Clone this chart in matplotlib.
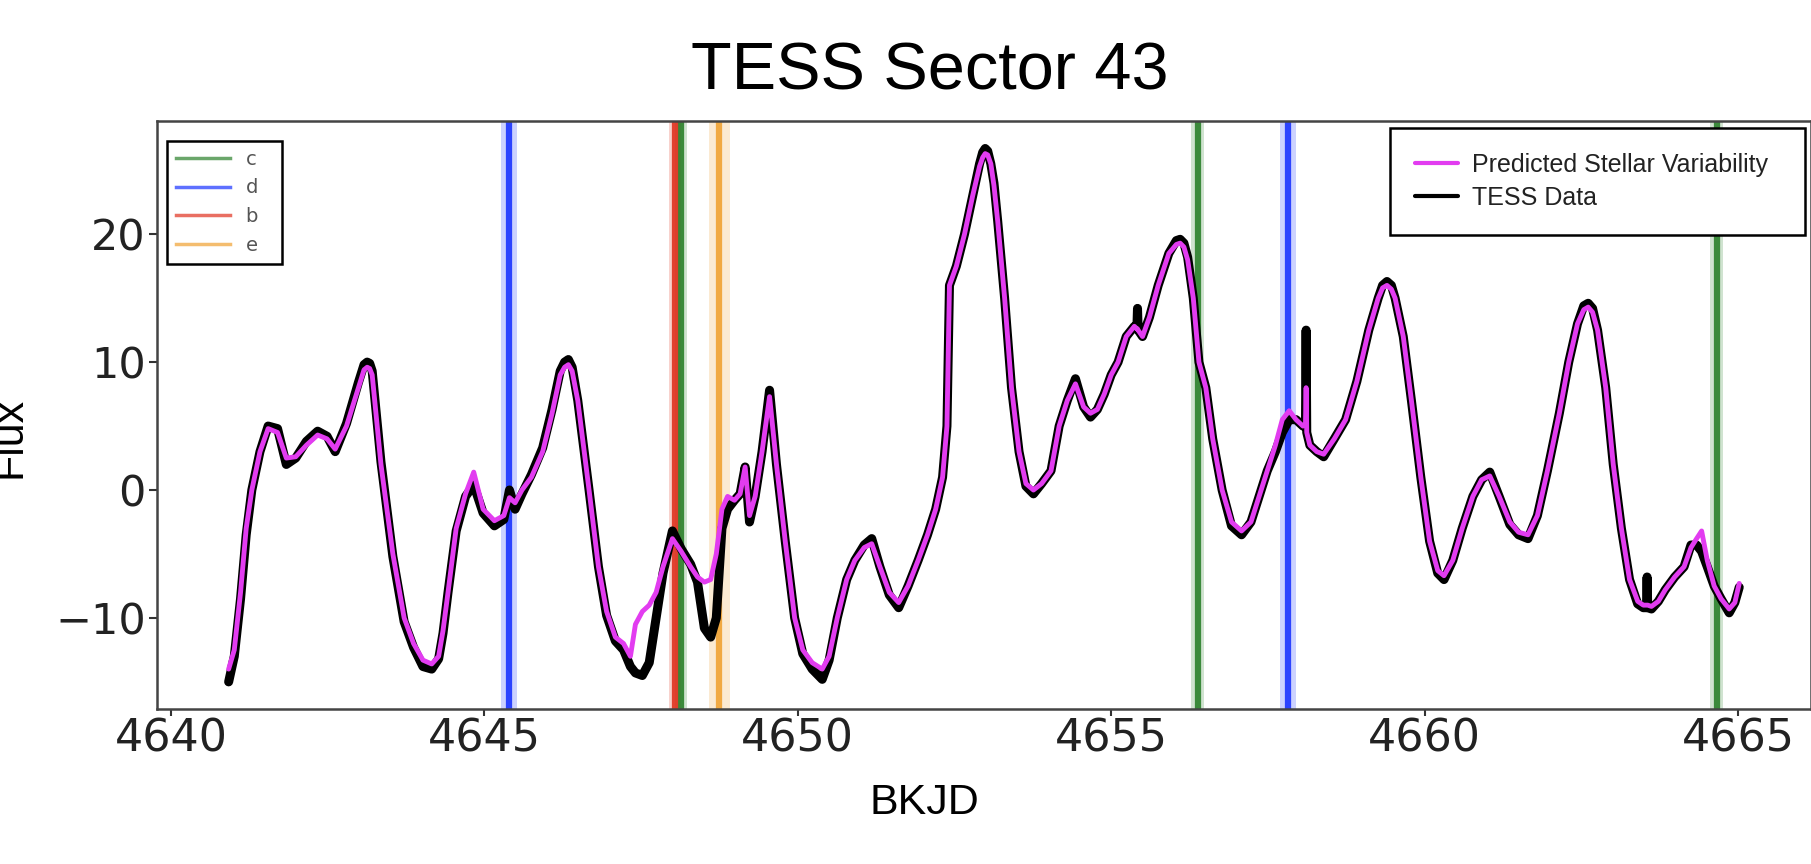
import numpy as np
import matplotlib.pyplot as plt

# light curve (BKJD, flux)
t = [4640.92, 4641.01, 4641.11, 4641.20, 4641.29, 4641.42, 4641.55, 4641.70, 4641.84, 4641.99,
     4642.16, 4642.34, 4642.49, 4642.62, 4642.80, 4642.99, 4643.08, 4643.13, 4643.17, 4643.21,
     4643.35, 4643.54, 4643.72, 4643.87,
     4644.02, 4644.16, 4644.27, 4644.34, 4644.42, 4644.55, 4644.70, 4644.83, 4644.98,
     4645.16, 4645.31, 4645.40, 4645.49, 4645.60, 4645.75, 4645.93,
     4646.08, 4646.21, 4646.28, 4646.34, 4646.40, 4646.49, 4646.67, 4646.82, 4646.95,
     4647.09, 4647.22, 4647.33, 4647.41, 4647.52, 4647.63, 4647.74, 4647.85,
     4648.00, 4648.14, 4648.29, 4648.40, 4648.51, 4648.61, 4648.70, 4648.79, 4648.88, 4648.99,
     4649.08, 4649.16, 4649.23, 4649.32, 4649.43, 4649.55, 4649.66, 4649.80, 4649.95,
     4650.08, 4650.23, 4650.39, 4650.50, 4650.63, 4650.78, 4650.91, 4651.06, 4651.18, 4651.31,
     4651.46, 4651.61, 4651.76, 4651.92, 4652.07, 4652.20, 4652.31, 4652.38, 4652.42,
     4652.53, 4652.66, 4652.79, 4652.90, 4652.95, 4652.99,
     4653.03, 4653.08, 4653.13, 4653.19, 4653.30, 4653.41, 4653.53, 4653.64, 4653.76, 4653.89,
     4654.04, 4654.17, 4654.30, 4654.43, 4654.56, 4654.67, 4654.78, 4654.89,
     4655.00, 4655.11, 4655.24, 4655.37, 4655.41, 4655.42, 4655.43, 4655.50, 4655.61, 4655.75,
     4655.92, 4656.04, 4656.10, 4656.16, 4656.22, 4656.31, 4656.40, 4656.51, 4656.62, 4656.77,
     4656.92, 4657.08, 4657.23, 4657.36, 4657.49, 4657.62, 4657.73, 4657.84, 4657.95,
     4658.06, 4658.10, 4658.11, 4658.12, 4658.17, 4658.28, 4658.39, 4658.56, 4658.74, 4658.92,
     4659.11, 4659.26, 4659.33, 4659.40, 4659.47, 4659.53, 4659.66, 4659.79, 4659.94,
     4660.08, 4660.21, 4660.31, 4660.45, 4660.60, 4660.77, 4660.91,
     4661.04, 4661.19, 4661.36, 4661.50, 4661.65, 4661.80, 4661.96,
     4662.15, 4662.30, 4662.44, 4662.54, 4662.61, 4662.68, 4662.76, 4662.89,
     4663.01, 4663.14, 4663.27, 4663.40, 4663.49, 4663.54, 4663.55, 4663.56, 4663.62, 4663.73,
     4663.84, 4663.99,
     4664.14, 4664.25, 4664.34, 4664.42, 4664.51, 4664.62, 4664.73, 4664.86, 4664.95, 4665.02]

pred = [-14.0, -12.5, -8.0, -3.0, 0.0, 3.0, 4.8, 4.5, 2.5, 2.6,
        3.5, 4.3, 4.0, 3.2, 5.0, 8.0, 9.4, 9.6, 9.5, 9.0,
        2.0, -5.0, -10.0, -12.0,
        -13.3, -13.6, -13.0, -11.0, -8.0, -3.0, -0.3, 1.4, -1.5,
        -2.4, -2.0, -0.6, -1.0, 0.0, 1.0, 3.0,
        6.0, 9.0, 9.6, 9.8, 9.3, 7.0, 0.0, -6.0, -9.5,
        -11.5, -12.0, -13.0, -10.5, -9.5, -9.0, -8.0, -6.0,
        -3.8, -4.8, -6.0, -6.8, -7.2, -7.0, -5.0, -1.5, -0.5, -0.8,
        -0.3, 1.8, -2.0, -0.5, 3.0, 7.3, 2.0, -4.0, -10.0,
        -12.5, -13.5, -14.0, -13.0, -10.0, -7.0, -5.5, -4.5, -4.2, -6.0,
        -8.0, -8.8, -7.5, -5.5, -3.5, -1.5, 1.0, 5.0, 16.0,
        17.5, 20.0, 23.0, 25.3, 26.0, 26.3,
        26.2, 25.5, 23.8, 21.0, 15.0, 8.0, 3.0, 0.5, 0.0, 0.5,
        1.5, 5.0, 7.0, 8.3, 6.5, 6.0, 6.3, 7.5,
        9.0, 10.0, 12.0, 12.8, 12.6, 12.6, 12.5, 12.0, 13.5, 16.0,
        18.5, 19.2, 19.3, 19.0, 18.0, 15.0, 10.0, 8.0, 4.0, 0.0,
        -2.5, -3.2, -2.5, -0.5, 1.5, 3.5, 5.5, 6.2, 5.5,
        5.0, 5.2, 8.0, 4.5, 3.5, 3.0, 2.8, 4.0, 5.5, 8.5,
        12.5, 15.0, 15.8, 16.0, 15.7, 15.0, 12.0, 7.0, 1.0,
        -4.0, -6.3, -6.7, -5.5, -3.0, -0.5, 0.8,
        1.1, -0.5, -2.5, -3.3, -3.5, -2.0, 1.5,
        6.0, 10.0, 13.0, 14.1, 14.3, 13.9, 12.5, 8.0,
        2.0, -3.0, -7.0, -8.7, -9.0, -9.0, -9.0, -9.0, -9.1, -8.7,
        -7.8, -6.8,
        -6.0, -4.5, -3.8, -3.2, -5.5, -7.5, -8.5, -9.3, -8.8, -7.3]

tess = [-15.0, -13.0, -8.5, -3.5, 0.0, 3.0, 5.0, 4.8, 2.0, 2.5,
        3.8, 4.6, 4.2, 3.0, 5.2, 8.4, 9.8, 10.0, 9.9, 9.3,
        2.2, -5.2, -10.3, -12.3,
        -13.8, -14.0, -13.2, -11.2, -8.0, -3.2, -0.5, 0.4, -1.8,
        -2.8, -2.3, 0.0, -1.5, -0.3, 1.2, 3.3,
        6.3, 9.3, 10.0, 10.2, 9.6, 7.0, 0.0, -6.0, -9.8,
        -11.8, -12.5, -13.8, -14.3, -14.5, -13.5, -10.0, -6.5,
        -3.2, -4.6, -5.8, -7.2, -10.8, -11.5, -10.0, -3.0, -1.5, -0.8,
        -0.3, 1.8, -2.5, -0.5, 3.0, 7.8, 2.0, -4.0, -10.0,
        -12.8, -14.0, -14.8, -13.3, -10.0, -7.0, -5.5, -4.3, -3.8, -6.0,
        -8.2, -9.2, -7.5, -5.5, -3.5, -1.5, 1.0, 5.0, 16.0,
        17.5, 20.0, 23.0, 25.5, 26.4, 26.7,
        26.5, 25.5, 24.0, 21.0, 15.0, 8.0, 3.0, 0.3, -0.3, 0.5,
        1.5, 5.0, 7.0, 8.7, 6.5, 5.7, 6.3, 7.5,
        9.0, 10.0, 12.0, 12.8, 12.6, 14.2, 12.5, 12.0, 13.5, 16.0,
        18.5, 19.5, 19.6, 19.3, 18.2, 15.0, 10.0, 8.0, 4.0, 0.0,
        -2.8, -3.5, -2.5, -0.5, 1.5, 3.0, 4.5, 5.5, 5.5,
        5.0, 5.2, 12.5, 4.5, 3.5, 3.0, 2.6, 4.0, 5.5, 8.5,
        12.5, 15.0, 16.0, 16.3, 16.0, 15.0, 12.0, 7.0, 1.0,
        -4.0, -6.5, -7.0, -5.5, -3.0, -0.5, 0.8,
        1.4, -0.5, -2.7, -3.5, -3.8, -2.0, 1.5,
        6.0, 10.0, 13.0, 14.4, 14.6, 14.2, 12.5, 8.0,
        2.0, -3.0, -7.0, -8.9, -9.2, -9.2, -6.8, -9.2, -9.3, -8.7,
        -7.8, -6.8,
        -6.0, -4.3, -4.3, -4.8, -6.0, -7.5, -8.5, -9.6, -8.8, -7.6]

# transit times and their uncertainty windows
planets = ['c', 'd', 'b', 'e']
transits = {'c': [4648.14, 4656.38, 4664.66],
            'd': [4645.39, 4657.82],
            'b': [4648.04],
            'e': [4648.75]}
halfwidth = {'c': 0.10, 'd': 0.13, 'b': 0.10, 'e': 0.17}
colors = {'c': '#2b802b', 'd': '#1a33ff', 'b': '#e0321f', 'e': '#f0a232'}

xticks = [4640, 4645, 4650, 4655, 4660, 4665]
yticks = [-10, 0, 10, 20]

W, H = 1811, 864
fig = plt.figure(figsize=(W / 100, H / 100), dpi=100)
ax = fig.add_axes([157 / W, 155 / H, 1654 / W, 588 / H])

for p in planets:
    for i, tt in enumerate(transits[p]):
        ax.axvspan(tt - halfwidth[p], tt + halfwidth[p], color=colors[p],
                   alpha=0.22, lw=0, zorder=1)
        ax.axvline(tt, color=colors[p], lw=4.5, alpha=0.9, zorder=2,
                   label=p if i == 0 else None)

l_tess, = ax.plot(t, tess, color='black', lw=6.5, zorder=3, label='TESS Data',
                  solid_joinstyle='round', solid_capstyle='round')
l_pred, = ax.plot(t, pred, color='#e23cf0', lw=3.5, zorder=4,
                  solid_joinstyle='round', solid_capstyle='round',
                  label='Predicted Stellar Variability')

ax.set_xlim(4639.777, 4666.165)
ax.set_ylim(-17.12, 28.85)
ax.set_xticks(xticks)
ax.set_yticks(yticks)
ax.tick_params(width=1.5, color='#333333', labelcolor='#222222')
ax.tick_params(axis='x', labelsize=32, length=5, pad=1)
ax.tick_params(axis='y', labelsize=31, length=6, pad=2)
for s in ax.spines.values():
    s.set_linewidth(1.8)
    s.set_color('#444444')

# planet legend
h1, lab1 = ax.get_legend_handles_labels()
h1 = [h for h, l in zip(h1, lab1) if l in planets]
leg1 = ax.legend(h1, planets, loc='upper left',
                 bbox_to_anchor=(0.006, 0.866, 0.0695, 0.1), mode='expand',
                 borderaxespad=0, fontsize=14, labelspacing=0.5,
                 handlelength=2.8, borderpad=0.45, fancybox=False,
                 edgecolor='black', framealpha=1, labelcolor='#555555')
leg1.get_frame().set_linewidth(1.8)
for ln in leg1.get_lines():
    ln.set_linewidth(2.5)
    ln.set_alpha(0.7)
ax.add_artist(leg1)

leg2 = ax.legend([l_pred, l_tess], ['Predicted Stellar Variability', 'TESS Data'],
                 loc='upper left', bbox_to_anchor=(0.7455, 0.888, 0.2509, 0.1),
                 mode='expand', borderaxespad=0,
                 prop={'family': 'Liberation Sans', 'size': 18},
                 labelspacing=0.35, handlelength=1.7, handletextpad=0.56,
                 borderpad=1.0, fancybox=False, edgecolor='black',
                 framealpha=1, labelcolor='#222222')
leg2.get_frame().set_linewidth(1.8)
for ln in leg2.get_lines():
    ln.set_linewidth(3)

fig.text(930 / W, 1 - 90 / H, 'TESS Sector 43', ha='center', va='baseline',
         fontsize=48, family='Liberation Sans')
fig.text(924 / W, 1 - 814 / H, 'BKJD', ha='center', va='baseline',
         fontsize=31, family='Liberation Sans')
fig.text(30 / W, 1 - 437 / H, 'Flux', rotation=90, ha='right', va='center',
         fontsize=31, family='Liberation Sans')

fig.savefig('out.png', dpi=100)
